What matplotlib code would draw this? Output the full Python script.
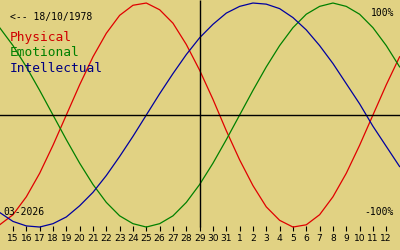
import matplotlib
matplotlib.use("Agg")
import matplotlib.pyplot as plt

# days shown: 14..31 (March) then 1..13 (April), today = 29
days = list(range(14, 32)) + list(range(1, 14))
tick_days = list(range(15, 32)) + list(range(1, 13))
today = 29

physical = [-98, -89, -73, -52, -27, 0, 27, 52, 73, 89, 98, 100, 94, 82, 63, 40,
            14, -14, -40, -63, -82, -94, -100, -98, -89, -73, -52, -27, 0, 27, 52]
emotional = [78, 62, 43, 22, 0, -22, -43, -62, -78, -90, -97, -100, -97, -90, -78, -62,
             -43, -22, 0, 22, 43, 62, 78, 90, 97, 100, 97, 90, 78, 62, 43]
intellectual = [-87, -95, -99, -100, -97, -91, -81, -69, -54, -37, -19, 0, 19, 37, 54, 69,
                81, 91, 97, 100, 99, 95, 87, 76, 62, 46, 28, 10, -10, -28, -46]

bg = "#e1d283"
mono = "DejaVu Sans Mono"

def main():
    fig = plt.figure(figsize=(4, 2.5), dpi=100, facecolor=bg)
    ax = fig.add_axes([0, 0, 1, 1], facecolor=bg)

    x = list(range(len(days)))
    ax.plot(x, physical, color="#e00000", lw=0.9)
    ax.plot(x, emotional, color="#008000", lw=0.9)
    ax.plot(x, intellectual, color="#0000a0", lw=0.9)

    ax.axhline(0, color="black", lw=1)
    ax.vlines(days.index(today), -100, 103, color="black", lw=1)

    ax.set_xlim(0.025, 30.03)
    ax.set_ylim(-120.5, 102.7)

    for s in ax.spines.values():
        s.set_visible(False)
    ax.spines["bottom"].set_position(("data", -99))
    ticks = [days.index(d) for d in tick_days[:17]] + [days.index(d, 18) for d in tick_days[17:]]
    ax.set_xticks(ticks)
    ax.set_xticklabels([str(d) for d in tick_days], fontsize=6.6,
                       family=["Liberation Sans Narrow", "DejaVu Sans"])
    ax.tick_params(axis="x", direction="out", length=3.8, width=0.8, pad=2)
    ax.set_yticks([])

    fig.text(10 / 400, 1 - 17 / 250, "<-- 18/10/1978", fontsize=7, family=mono, va="center")
    fig.text(10 / 400, 1 - 38 / 250, "Physical", color="#d00000", fontsize=9.3, family=mono, va="center")
    fig.text(10 / 400, 1 - 53 / 250, "Emotional", color="#008000", fontsize=9.3, family=mono, va="center")
    fig.text(10 / 400, 1 - 68 / 250, "Intellectual", color="#000080", fontsize=9.3, family=mono, va="center")
    fig.text(394 / 400, 1 - 13 / 250, "100%", fontsize=7, family=mono, va="center", ha="right")
    fig.text(394 / 400, 1 - 212 / 250, "-100%", fontsize=7, family=mono, va="center", ha="right")
    fig.text(3 / 400, 1 - 212 / 250, "03-2026", fontsize=7, family=mono, va="center")

    fig.savefig("out.png", dpi=100, facecolor=bg)

if __name__ == "__main__":
    main()
